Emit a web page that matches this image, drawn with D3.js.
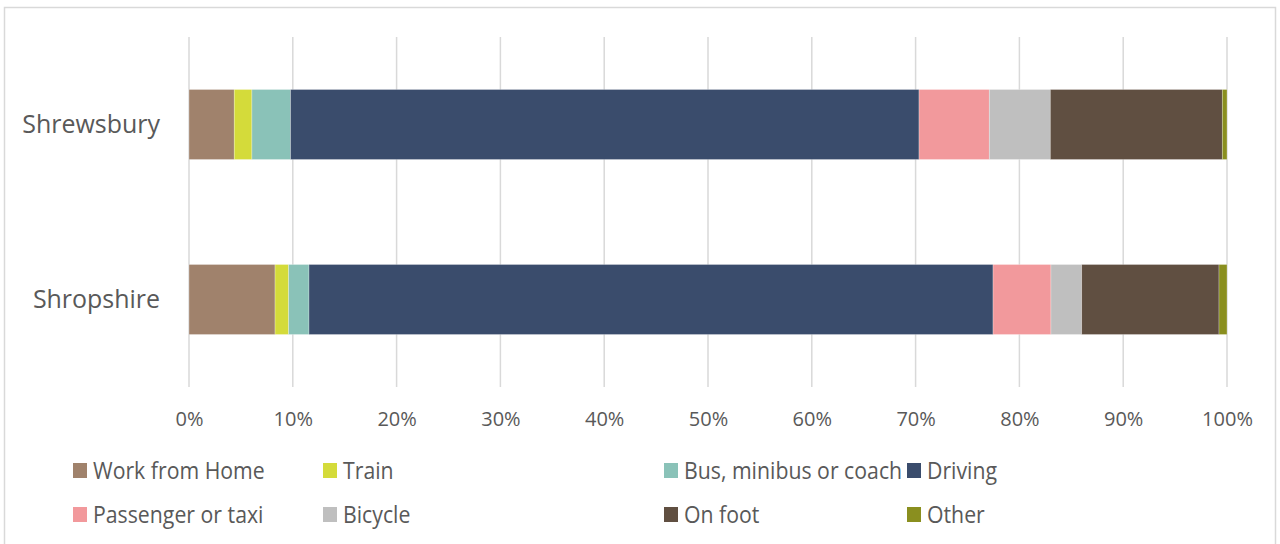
<!DOCTYPE html>
<html><head><meta charset="utf-8">
<script src="https://cdn.jsdelivr.net/npm/d3@7"></script>
<style>body{margin:0;background:#fff;} text{font-family:"Open Sans","Noto Sans",sans-serif;fill:#595959;}</style>
</head><body>
<svg id="c" width="1280" height="544"></svg>
<script>
const categories = ["Shrewsbury", "Shropshire"];
const seriesNames = ["Work from Home","Train","Bus, minibus or coach","Driving","Passenger or taxi","Bicycle","On foot","Other"];
const shrewsbury = [4.36, 1.70, 3.72, 60.55, 6.77, 5.88, 16.57, 0.45];
const shropshire = [8.29, 1.31, 1.96, 65.90, 5.58, 2.96, 13.23, 0.77];
const colors = ["#A0826C","#D4DB3A","#8AC2B8","#3A4C6C","#F2999C","#BFBFBF","#604F41","#8A8F1F"];
const tickValues = [0,10,20,30,40,50,60,70,80,90,100];
const tickLabels = ["0%","10%","20%","30%","40%","50%","60%","70%","80%","90%","100%"];

const FONT = '"Open Sans","Noto Sans",sans-serif';
const svg = d3.select("#c");
svg.append("rect").attr("x",4.5).attr("y",7.5).attr("width",1271).attr("height",540)
  .attr("fill","#fff").attr("stroke","#D9D9D9").attr("stroke-width",1.5);

const x = d3.scaleLinear().domain([0,100]).range([189,1227]);
const y = d3.scaleBand().domain(categories).range([37,387]).paddingInner(0.6).paddingOuter(0.3);

const grid = svg.append("g");
grid.selectAll("line").data(tickValues).join("line")
  .attr("x1",d=>x(d)).attr("x2",d=>x(d)).attr("y1",37).attr("y2",387)
  .attr("stroke","#D9D9D9").attr("stroke-width",1.5);

const data = [shrewsbury, shropshire];
const rows = data.map((vals,i)=>{
  let acc=0; return vals.map((v,j)=>{const s={cat:categories[i],x0:acc,x1:acc+v,j}; acc+=v; return s;});
});
svg.append("g").selectAll("g").data(rows).join("g").selectAll("rect").data(d=>d).join("rect")
  .attr("x",d=>x(d.x0)).attr("width",d=>x(d.x1)-x(d.x0))
  .attr("y",d=>y(d.cat)).attr("height",y.bandwidth())
  .attr("fill",d=>colors[d.j]).attr("stroke","#fff").attr("stroke-opacity",0.35).attr("stroke-width",0.75);

const xAxis = d3.axisBottom(x).tickValues(tickValues).tickFormat((d,i)=>tickLabels[i]).tickSize(0).tickPadding(0);
const gx = svg.append("g").attr("transform","translate(0,419)").call(xAxis);
gx.select(".domain").remove();
gx.selectAll("text").attr("font-size",20).attr("dy","0.36em").style("font-family",FONT).attr("fill","#595959");

const yAxis = d3.axisLeft(y).tickSize(0).tickPadding(0);
const gy = svg.append("g").attr("transform","translate(160,0)").call(yAxis);
gy.select(".domain").remove();
gy.selectAll("text").attr("font-size",26).attr("transform","scale(0.96,1)").style("font-family",FONT).attr("fill","#595959");

const legendX = [73, 323, 664, 907];
const legendY = [471, 515];
const lg = svg.append("g");
seriesNames.forEach((n,i)=>{
  const col=i%4, row=Math.floor(i/4);
  const g = lg.append("g").attr("transform",`translate(${legendX[col]},${legendY[row]})`);
  g.append("rect").attr("x",0).attr("y",-8).attr("width",14).attr("height",15).attr("fill",colors[i]);
  g.append("text").attr("x",0).attr("y",0).attr("dy","0.35em").attr("font-size",23)
    .attr("transform","translate(20,0) scale(0.925,1)").text(n);
});
</script>
</body></html>
